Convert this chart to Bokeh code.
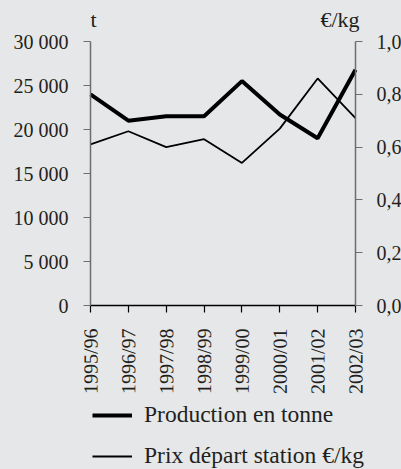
import math
from bokeh.plotting import figure
from bokeh.models import (Range1d, LinearAxis, FixedTicker, Legend, LegendItem, Label)
from bokeh.embed import file_html
from bokeh.resources import INLINE

# ---- data ----
seasons = ["1995/96", "1996/97", "1997/98", "1998/99", "1999/00", "2000/01", "2001/02", "2002/03"]
production_t = [24000, 21000, 21500, 21500, 25500, 21700, 19000, 26800]
price_eur_kg = [0.61, 0.66, 0.60, 0.63, 0.54, 0.67, 0.86, 0.71]
prod_ticks = [0, 5000, 10000, 15000, 20000, 25000, 30000]
prod_tick_labels = ["0", "5 000", "10 000", "15 000", "20 000", "25 000", "30 000"]
price_ticks = [0.0, 0.2, 0.4, 0.6, 0.8, 1.0]
price_tick_labels = ["0,0", "0,2", "0,4", "0,6", "0,8", "1,0"]
legend_labels = ["Production en tonne", "Prix départ station €/kg"]
unit_left = "t"
unit_right = "€/kg"
prod_max = 30000
price_max = 1.0

BG = "#e6e7e8"
FONT = "Liberation Serif"
TXT = "#231f20"

# layout (pixels): the plot frame fills the whole page; the axes are pinned
# so that the value band is AXIS_TOP..AXIS_BOTTOM and categories AX_LEFT..AX_RIGHT
W, H = 401, 469
AXIS_TOP, AXIS_BOTTOM = 41, 305
AX_LEFT, AX_RIGHT = 90, 355
n = len(seasons)
x_last = n - 1
px_per_cat = (AX_RIGHT - AX_LEFT) / x_last
top_f = AXIS_BOTTOM / (AXIS_BOTTOM - AXIS_TOP)
bot_f = (H - AXIS_BOTTOM) / (AXIS_BOTTOM - AXIS_TOP)

x = list(range(n))

p = figure(width=W, height=H, output_backend="svg", toolbar_location=None,
           x_range=Range1d(-AX_LEFT / px_per_cat, (W - AX_LEFT) / px_per_cat),
           y_range=Range1d(-prod_max * bot_f, prod_max * top_f),
           min_border_left=0, min_border_right=0,
           min_border_top=0, min_border_bottom=0)
p.background_fill_color = BG
p.border_fill_color = BG
p.outline_line_color = None
p.grid.visible = False
p.extra_y_ranges = {"price": Range1d(-price_max * bot_f, price_max * top_f)}

# category axis (drawn at y = 0)
xa = p.xaxis[0]
xa.fixed_location = 0
xa.bounds = (0, x_last)
xa.ticker = FixedTicker(ticks=x)
xa.major_label_overrides = {i: s for i, s in zip(x, seasons)}
xa.major_label_orientation = math.pi / 2 - 0.001
xa.axis_line_color = "#000000"
xa.axis_line_width = 1.5
xa.major_tick_line_color = "#000000"
xa.major_tick_line_width = 1.2
xa.major_tick_in = 0
xa.major_tick_out = 7
xa.minor_tick_line_color = None
xa.major_label_standoff = 16

# production axis (drawn at the first category)
ya = p.yaxis[0]
ya.fixed_location = 0
ya.ticker = FixedTicker(ticks=prod_ticks)
ya.major_label_overrides = {v: s for v, s in zip(prod_ticks, prod_tick_labels)}
ya.major_label_standoff = 15
ya.bounds = (0, prod_max)

# price axis (drawn at the last category)
right = LinearAxis(y_range_name="price", ticker=FixedTicker(ticks=price_ticks),
                   bounds=(0, price_max), fixed_location=x_last)
right.major_label_overrides = {v: s for v, s in zip(price_ticks, price_tick_labels)}
right.major_label_standoff = 14
p.add_layout(right, "right")

for ax in [ya, right]:
    ax.axis_line_color = "#6d6e71"
    ax.axis_line_width = 1.5
    ax.major_tick_line_color = "#6d6e71"
    ax.major_tick_line_width = 1.2
    ax.major_tick_in = 0
    ax.major_tick_out = 7
    ax.minor_tick_line_color = None

for ax in [xa, ya, right]:
    ax.major_label_text_font = FONT
    ax.major_label_text_font_size = "20px"
    ax.major_label_text_color = TXT

# lines
r_prod = p.line(x, production_t, line_color="#000000", line_width=4)
r_price = p.line(x, price_eur_kg, y_range_name="price", line_color="#000000", line_width=1.8)

# unit titles
p.add_layout(Label(x=0, y=prod_max, text=unit_left, x_offset=0, y_offset=22,
                   text_font=FONT, text_font_size="22px", text_color=TXT,
                   text_align="left", text_baseline="alphabetic"))
p.add_layout(Label(x=x_last, y=prod_max, text=unit_right, x_offset=4, y_offset=22,
                   text_font=FONT, text_font_size="22px", text_color=TXT,
                   text_align="right", text_baseline="alphabetic"))

legend = Legend(items=[LegendItem(label=legend_labels[0], renderers=[r_prod]),
                       LegendItem(label=legend_labels[1], renderers=[r_price])],
                location=(AX_LEFT + 2, 0), orientation="vertical")
legend.border_line_color = None
legend.background_fill_alpha = 0
legend.label_text_font = FONT
legend.label_text_font_size = "23.5px"
legend.label_text_color = TXT
legend.glyph_width = 40
legend.glyph_height = 16
legend.label_height = 16
legend.label_standoff = 12
legend.spacing = 14
legend.padding = 0
legend.margin = 0
p.add_layout(legend, "center")

html = file_html(p, INLINE)
html = html.replace("</head>", "<style>html,body{background:%s;overflow:hidden}</style></head>" % BG, 1)
open("out.html", "w").write(html)
